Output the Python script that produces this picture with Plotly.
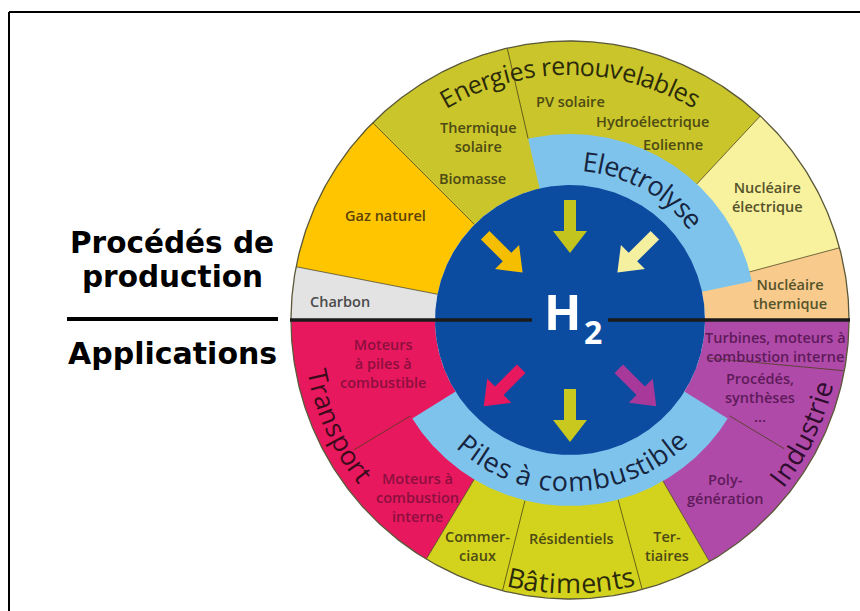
import math
import plotly.graph_objects as go

# ---------------- data ----------------
prod_labels = ["Nucléaire thermique", "Nucléaire électrique", "Energies renouvelables", "Gaz naturel", "Charbon"]
prod_start = [0, 15, 47, 135, 169]
prod_end = [15, 47, 135, 169, 180]

app_labels = ["Transport", "Bâtiments", "Industrie"]
app_start = [180, 239, 300]
app_end = [239, 300, 360]

hub_labels = ["Electrolyse", "Piles à combustible"]
hub_start = [12, 212]
hub_end = [103, 328]

sub_div_angles = [103, 211, 256, 285, 329, 347]

sub_labels = ["PV solaire", "Hydroélectrique", "Eolienne", "Thermique<br>solaire", "Biomasse",
              "Gaz naturel", "Charbon", "Nucléaire<br>électrique", "Nucléaire<br>thermique",
              "Moteurs<br>à piles à<br>combustible", "Moteurs à<br>combustion<br>interne",
              "Commer-<br>ciaux", "Résidentiels", "Ter-<br>tiaires",
              "Turbines, moteurs à<br>combustion interne", "Procédés,<br>synthèses<br>...",
              "Poly-<br>génération"]

center_main = "H"
center_sub = "2"

arrow_angles = [135, 90, 45, 225, 270, 315]
arrow_inward = [True, True, True, False, False, False]

side_labels = ["Procédés de", "production", "Applications"]

# ---------------- layout / style ----------------
CX, CY = 570, 320
R_OUT, R_BAND, R_CORE = 279, 186, 135

prod_colors = ["#F8CB8C", "#F8F19E", "#C9C52A", "#FFC600", "#E3E3E3"]
app_colors = ["#E8185E", "#D3D31E", "#B04AA8"]
hub_color = "#7EC3EB"
core_color = "#0B4CA1"

sub_pos = [(570, 101), (652, 121), (673, 144), (478, 137), (472, 178),
           (385, 215), (340, 301), (767, 197), (790, 294),
           (383, 363), (417, 497),
           (477, 546), (571, 538), (667, 546),
           (775, 347), (760, 397), (725, 489)]
sub_colors = ["#4d4a14"] * 5 + ["#5c4208", "#4a4a4a", "#55532a", "#55532a",
                                "#8c0f3e", "#8c0f3e", "#4d4a14", "#4d4a14", "#4d4a14",
                                "#5e1a5a", "#5e1a5a", "#5e1a5a"]

# curved titles: (text, mid angle, radius, font size, side, color)
titles = [
    (prod_labels[2], 90.0, 255, 25, "top", "#2b2a0a"),
    (hub_labels[0], 61.0, 160, 27, "top", "#16243f"),
    (hub_labels[1], 271.0, 161, 27, "bottom", "#16243f"),
    (app_labels[0], 204.5, 258, 26.5, "bottom", "#3d0a1c"),
    (app_labels[1], 270.2, 263, 27, "bottom", "#2b2a0a"),
    (app_labels[2], 334.0, 261, 27, "bottom", "#2e0c2d"),
]

arrow_colors = ["#F6BE00", "#C3C51E", "#F5F0A0", "#E8185F", "#C8C81E", "#A8399A"]

W = {" ": 260, "a": 556, "b": 613, "c": 480, "d": 613, "e": 561, "g": 546, "i": 253, "l": 253,
     "m": 930, "n": 613, "o": 604, "p": 613, "r": 408, "s": 477, "t": 353, "u": 613, "v": 500,
     "y": 500, "à": 556, "â": 556, "E": 556, "B": 633, "T": 550, "P": 603, "I": 279}


def pt(r, deg):
    a = math.radians(deg)
    return CX + r * math.cos(a), CY - r * math.sin(a)


def sector(a0, a1, r0, r1):
    n = max(2, int(abs(a1 - a0) * 2) + 1)
    angs = [a0 + (a1 - a0) * i / (n - 1) for i in range(n)]
    xs, ys = [], []
    for a in angs:
        x, y = pt(r1, a)
        xs.append(x); ys.append(y)
    if r0 > 0:
        for a in reversed(angs):
            x, y = pt(r0, a)
            xs.append(x); ys.append(y)
    xs.append(xs[0]); ys.append(ys[0])
    return xs, ys


fig = go.Figure()


def add_fill(xs, ys, color):
    fig.add_trace(go.Scatter(x=xs, y=ys, mode="lines", fill="toself", fillcolor=color,
                             line=dict(width=0, color=color), hoverinfo="skip", showlegend=False))


for a0, a1, c in zip(prod_start, prod_end, prod_colors):
    add_fill(*sector(a0, a1, R_CORE, R_OUT), c)
for a0, a1, c in zip(app_start, app_end, app_colors):
    add_fill(*sector(a0, a1, R_CORE, R_OUT), c)

# dividers: (angle, inner r, outer r, skew of outer end in degrees)
div_specs = []
for a in prod_start[1:]:
    div_specs.append((a, R_CORE, R_OUT, 0))
for a in app_start[1:]:
    div_specs.append((a, R_CORE, R_OUT, 0))
sub_extent = {103: (R_BAND, R_OUT, 0), 211: (R_BAND, 252, 0), 256: (R_BAND, R_OUT, 0),
              285: (R_BAND, R_OUT, 0), 329: (R_BAND, 250, 0), 347: (142, R_OUT - 1, 5)}
for a in sub_div_angles:
    r0, r1, sk = sub_extent[a]
    div_specs.append((a, r0, r1, sk))
dx, dy = [], []
for a, r0, r1, sk in div_specs:
    x0, y0 = pt(r0, a - sk / 2); x1, y1 = pt(r1, a + sk / 2)
    dx += [x0, x1, None]; dy += [y0, y1, None]
fig.add_trace(go.Scatter(x=dx, y=dy, mode="lines", line=dict(color="rgba(70,62,20,0.75)", width=1),
                         hoverinfo="skip", showlegend=False))

for a0, a1 in zip(hub_start, hub_end):
    add_fill(*sector(a0, a1, R_CORE - 2, R_BAND), hub_color)

add_fill(*sector(0, 360, 0, R_CORE), core_color)

# outer border
ox, oy = sector(0, 360, 0, R_OUT)
fig.add_trace(go.Scatter(x=ox[:-1], y=oy[:-1], mode="lines", line=dict(color="#5a5838", width=1.3),
                         hoverinfo="skip", showlegend=False))

# black separator line
fig.add_trace(go.Scatter(x=[CX - R_OUT - 1, CX - 38, None, CX + 38, CX + R_OUT + 1],
                         y=[CY, CY, None, CY, CY], mode="lines",
                         line=dict(color="#1a1a1a", width=3.5), hoverinfo="skip", showlegend=False))

# arrows
L_HEAD, SHAFT, HEAD = 22, 6, 17
for ang, inward, col in zip(arrow_angles, arrow_inward, arrow_colors):
    r_tail, r_tip = (120, 67) if inward else (69, 122)
    tx, ty = pt(r_tail, ang)
    px, py = pt(r_tip, ang)
    L = math.hypot(px - tx, py - ty)
    ux, uy = (px - tx) / L, (py - ty) / L
    vx, vy = -uy, ux
    local = [(0, -SHAFT), (L - L_HEAD, -SHAFT), (L - L_HEAD, -HEAD), (L, 0),
             (L - L_HEAD, HEAD), (L - L_HEAD, SHAFT), (0, SHAFT), (0, -SHAFT)]
    xs = [tx + a * ux + b * vx for a, b in local]
    ys = [ty + a * uy + b * vy for a, b in local]
    add_fill(xs, ys, col)

annotations = []


def ann(x, y, text, size, color, family="Open Sans", weight="normal", angle=0):
    annotations.append(dict(x=x, y=y, xref="x", yref="y", text=text, showarrow=False,
                            xanchor="center", yanchor="middle", textangle=angle,
                            font=dict(family=family, size=size, color=color, weight=weight)))


def norm(a):
    while a > 180:
        a -= 360
    while a <= -180:
        a += 360
    return a


for text, mid, r, fs, side, col in titles:
    total = sum(W.get(c, 560) for c in text) / 1000 * fs
    d = -1 if side == "top" else 1
    start = mid - d * math.degrees(total / 2 / r)
    cum = 0
    for ch in text:
        w = W.get(ch, 560) / 1000 * fs
        th = start + d * math.degrees((cum + w / 2) / r)
        cum += w
        if ch == " ":
            continue
        x, y = pt(r, th)
        rot = 90 - th if side == "top" else 270 - th
        ann(x, y, ch, fs, col, weight=500, angle=norm(rot))

for (x, y), t, c in zip(sub_pos, sub_labels, sub_colors):
    ann(x, y, t, 14.5, c, weight=600)

ann(563, 311, center_main, 49, "white", weight="bold")
ann(593, 331, center_sub, 32, "white", weight="bold")

side_y = [243, 277, 353]
side_size = [29.5, 29.5, 30]
for t, y, s in zip(side_labels, side_y, side_size):
    ann(172, y, t, s, "black", family="DejaVu Sans", weight="bold")

shapes = [
    dict(type="line", xref="x", yref="y", x0=9, y0=12, x1=860, y1=12, line=dict(color="black", width=2)),
    dict(type="line", xref="x", yref="y", x0=9, y0=12, x1=9, y1=611, line=dict(color="black", width=2)),
    dict(type="line", xref="x", yref="y", x0=67, y0=319, x1=278, y1=319, line=dict(color="black", width=4)),
]

fig.update_layout(width=860, height=611, margin=dict(l=0, r=0, t=0, b=0),
                  paper_bgcolor="white", plot_bgcolor="white", showlegend=False,
                  xaxis=dict(range=[0, 860], visible=False, fixedrange=True),
                  yaxis=dict(range=[611, 0], visible=False, fixedrange=True),
                  annotations=annotations, shapes=shapes)

fig.write_html("out.html", config={"displayModeBar": False},
               post_script="document.body.style.margin='0';document.body.style.overflow='hidden';")
